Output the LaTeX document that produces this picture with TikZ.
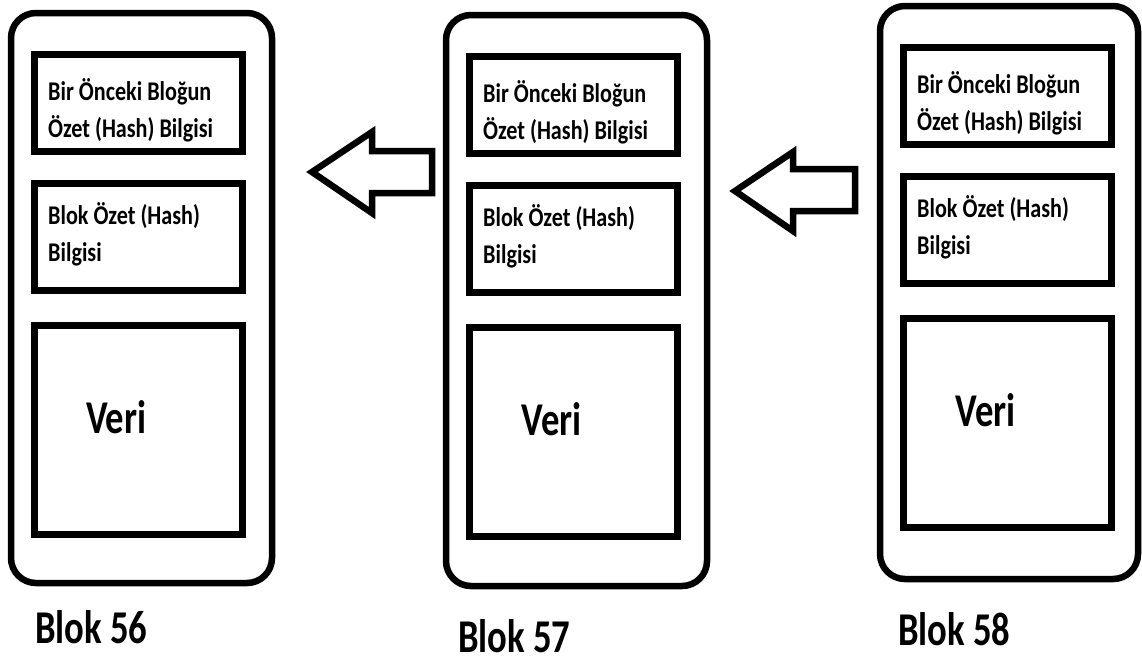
\documentclass[tikz,border=0pt]{standalone}
\usepackage{fontspec}
\usepackage{tikz}
\usetikzlibrary{calc, positioning}
\setmainfont{Carlito}[FakeStretch=0.82]
\newfontfamily\bigfont{Carlito}[FakeStretch=0.78]

\begin{document}
\begin{tikzpicture}[x=1pt, y=-1pt,
    block/.style={rectangle, draw=black, line width=6.5pt, rounded corners=25pt,
                  inner sep=0pt, outer sep=0pt},
    field/.style={rectangle, draw=black, line width=7pt, minimum width=208pt,
                  inner sep=0pt, outer sep=0pt},
    fieldtext/.style={anchor=base west, align=left, inner sep=0pt,
                      font=\bfseries\fontsize{27}{37}\selectfont},
    bigtext/.style={anchor=base west, inner sep=0pt,
                    font=\bigfont\bfseries\fontsize{47}{50}\selectfont},
    hollow/.style={draw=black, line width=6.5pt, fill=white}]

\useasboundingbox (0,0) rectangle (1142,662);

% Blocks of the chain
\foreach \n/\cx/\cy/\w/\h/\lx/\ly in {56/141.5/298/261/570/35/643,
                                      57/576.5/300.5/261/571/458/652,
                                      58/1009/292.5/258/573/898/645} {
    \node[block, minimum width=\w pt, minimum height=\h pt] (b\n) at (\cx,\cy) {};

    % previous hash, own hash, data
    \node[field, minimum height=97pt, anchor=north west]
         (prev\n) at ($(b\n.north west)+(23,41)$) {};
    \node[field, minimum height=107pt, below=32pt of prev\n.south west, anchor=north west]
         (hash\n) {};
    \node[field, minimum height=209pt, below=35pt of hash\n.south west, anchor=north west]
         (data\n) {};

    % base of a two-line node sits on its last line
    \node[fieldtext] (prevtxt\n) at ($(prev\n.north west)+(14,83)$)
         {Bir Önceki Bloğun\\Özet (Hash) Bilgisi};
    \node[fieldtext] (hashtxt\n) at ($(hash\n.north west)+(14,78)$)
         {Blok Özet (Hash)\\Bilgisi};
    \node[bigtext] (datatxt\n) at ($(data\n.north west)+(52,108)$) {Veri};

    % block name under the block
    \node[bigtext] (name\n) at (\lx,\ly) {Blok \n};
}

% Arrows between blocks
\coordinate (tip1) at (312,172);
\draw[hollow] (tip1) -- ++(60,-40) -- ++(0,19) -- ++(60,0) -- ++(0,42)
              -- ++(-60,0) -- ++(0,20) -- cycle;

\coordinate (tip2) at (735,191);
\draw[hollow] (tip2) -- ++(58,-39) -- ++(0,17) -- ++(62,0) -- ++(0,42)
              -- ++(-62,0) -- ++(0,20) -- cycle;

\end{tikzpicture}
\end{document}
